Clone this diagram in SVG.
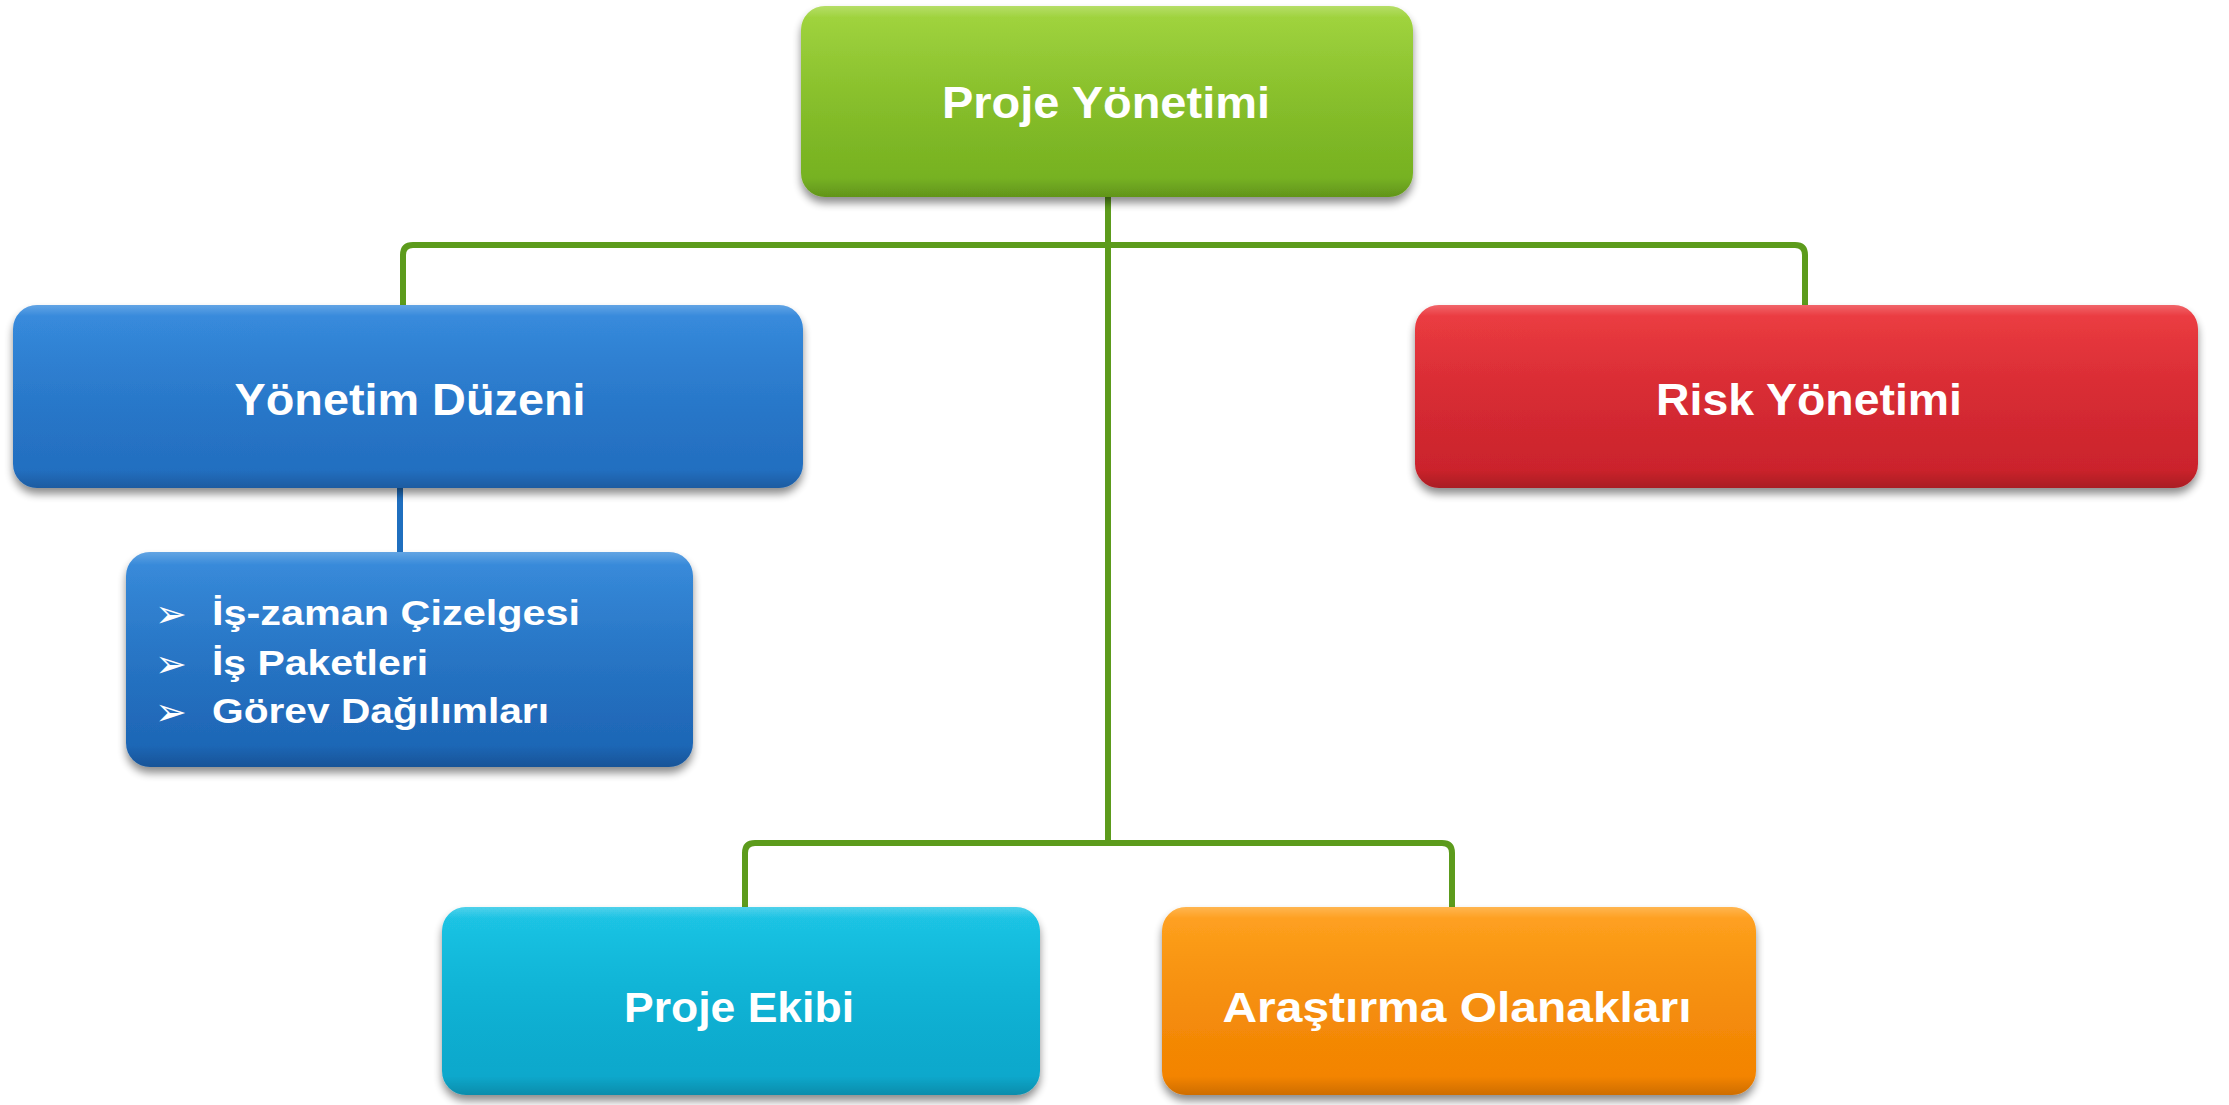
<svg xmlns="http://www.w3.org/2000/svg" width="2229" height="1105" viewBox="0 0 2229 1105">
<style>
.lbl{font-family:"Liberation Sans",Arial,sans-serif;font-weight:bold;fill:#ffffff;}
.bul{font-family:"DejaVu Sans",sans-serif;fill:#ffffff;font-size:38px;}
.conn{fill:none;stroke-linecap:butt;stroke-linejoin:round;}
.box{filter:url(#shadow);}
.gloss{fill:url(#gloss);}
</style>
<defs>
<filter id="shadow" x="-5%" y="-10%" width="110%" height="125%">
<feGaussianBlur in="SourceAlpha" stdDeviation="4"/>
<feOffset dx="0" dy="6" result="b"/>
<feComponentTransfer><feFuncA type="linear" slope="0.45"/></feComponentTransfer>
<feMerge><feMergeNode/><feMergeNode in="SourceGraphic"/></feMerge>
</filter>
<linearGradient id="gGreen" x1="0" y1="0" x2="0" y2="1"><stop offset="0" stop-color="#9dd335"/><stop offset="1" stop-color="#72ae1f"/></linearGradient>
<linearGradient id="gBlue" x1="0" y1="0" x2="0" y2="1"><stop offset="0" stop-color="#2e86dc"/><stop offset="1" stop-color="#226cbd"/></linearGradient>
<linearGradient id="gBlue2" x1="0" y1="0" x2="0" y2="1"><stop offset="0" stop-color="#2f86da"/><stop offset="1" stop-color="#1c63b2"/></linearGradient>
<linearGradient id="gRed" x1="0" y1="0" x2="0" y2="1"><stop offset="0" stop-color="#ec3238"/><stop offset="1" stop-color="#c7222b"/></linearGradient>
<linearGradient id="gCyan" x1="0" y1="0" x2="0" y2="1"><stop offset="0" stop-color="#12c2e4"/><stop offset="1" stop-color="#0aa5c9"/></linearGradient>
<linearGradient id="gOrange" x1="0" y1="0" x2="0" y2="1"><stop offset="0" stop-color="#ff9d14"/><stop offset="1" stop-color="#f28100"/></linearGradient>
<linearGradient id="gloss" x1="0" y1="0" x2="0" y2="1"><stop offset="0" stop-color="#ffffff" stop-opacity="0.25"/><stop offset="0.06" stop-color="#ffffff" stop-opacity="0.05"/><stop offset="0.9" stop-color="#000000" stop-opacity="0"/><stop offset="1" stop-color="#000000" stop-opacity="0.15"/></linearGradient>
</defs>
<rect width="2229" height="1105" fill="#ffffff"/>

<g id="connectors">
<path class="conn" stroke="#5c9b1c" stroke-width="6" d="M1108,197 V843"/>
<path class="conn" stroke="#5c9b1c" stroke-width="6" d="M403,305 V255 Q403,245 413,245 H1795 Q1805,245 1805,255 V305"/>
<path class="conn" stroke="#5c9b1c" stroke-width="6" d="M745,907 V853 Q745,843 755,843 H1442 Q1452,843 1452,853 V907"/>
<path class="conn" stroke="#1f6fbf" stroke-width="6" d="M400,488 V552"/>
</g>

<g id="node-proje-yonetimi">
<rect class="box" x="801" y="6" width="612" height="191" rx="24" fill="url(#gGreen)"/>
<rect class="gloss" x="801" y="6" width="612" height="191" rx="24"/>
<text class="lbl" x="1106" y="118" font-size="45" text-anchor="middle" textLength="328" lengthAdjust="spacingAndGlyphs">Proje Yönetimi</text>
</g>

<g id="node-yonetim-duzeni">
<rect class="box" x="13" y="305" width="790" height="183" rx="24" fill="url(#gBlue)"/>
<rect class="gloss" x="13" y="305" width="790" height="183" rx="24"/>
<text class="lbl" x="410" y="415" font-size="45" text-anchor="middle" textLength="351" lengthAdjust="spacingAndGlyphs">Yönetim Düzeni</text>
</g>

<g id="node-risk-yonetimi">
<rect class="box" x="1415" y="305" width="783" height="183" rx="24" fill="url(#gRed)"/>
<rect class="gloss" x="1415" y="305" width="783" height="183" rx="24"/>
<text class="lbl" x="1809" y="415" font-size="45" text-anchor="middle" textLength="306" lengthAdjust="spacingAndGlyphs">Risk Yönetimi</text>
</g>

<g id="node-alt-liste">
<rect class="box" x="126" y="552" width="567" height="215" rx="24" fill="url(#gBlue2)"/>
<rect class="gloss" x="126" y="552" width="567" height="215" rx="24"/>
<text class="bul" x="155" y="627">➢</text>
<text class="bul" x="155" y="677">➢</text>
<text class="bul" x="155" y="725">➢</text>
<text class="lbl" x="212" y="625" font-size="35" textLength="368" lengthAdjust="spacingAndGlyphs">İş-zaman Çizelgesi</text>
<text class="lbl" x="212" y="675" font-size="35" textLength="216" lengthAdjust="spacingAndGlyphs">İş Paketleri</text>
<text class="lbl" x="212" y="723" font-size="35" textLength="337" lengthAdjust="spacingAndGlyphs">Görev Dağılımları</text>
</g>

<g id="node-proje-ekibi">
<rect class="box" x="442" y="907" width="598" height="188" rx="24" fill="url(#gCyan)"/>
<rect class="gloss" x="442" y="907" width="598" height="188" rx="24"/>
<text class="lbl" x="739" y="1022" font-size="42" text-anchor="middle" textLength="230" lengthAdjust="spacingAndGlyphs">Proje Ekibi</text>
</g>

<g id="node-arastirma">
<rect class="box" x="1162" y="907" width="594" height="188" rx="24" fill="url(#gOrange)"/>
<rect class="gloss" x="1162" y="907" width="594" height="188" rx="24"/>
<text class="lbl" x="1457" y="1022" font-size="42" text-anchor="middle" textLength="469" lengthAdjust="spacingAndGlyphs">Araştırma Olanakları</text>
</g>
</svg>
